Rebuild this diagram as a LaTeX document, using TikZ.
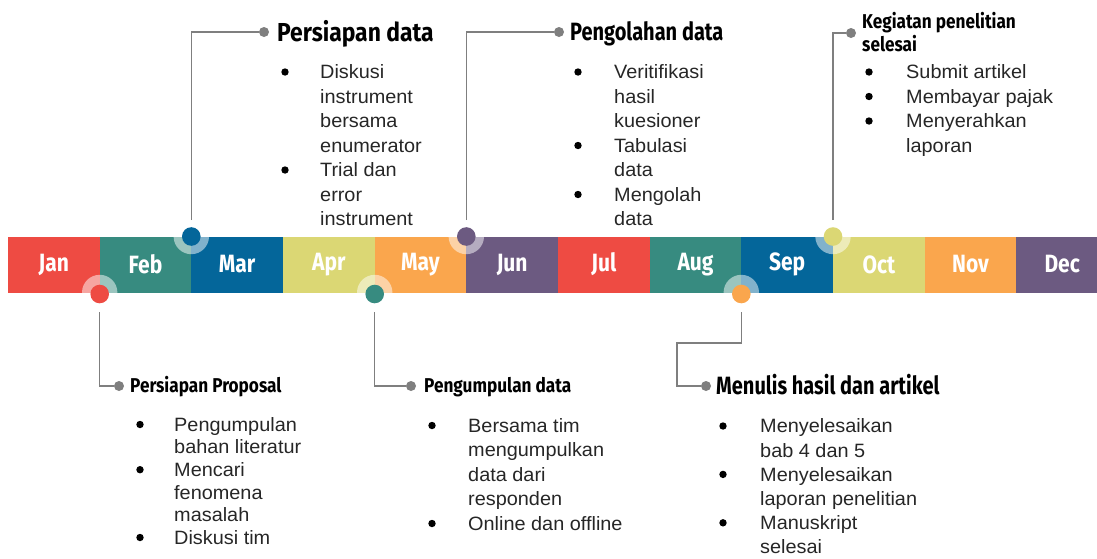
\documentclass[tikz,border=0pt]{standalone}
\usepackage{fontspec}
\setmainfont{Liberation Sans}[FakeStretch=1.03]
\newfontfamily\tfont[FakeStretch=0.8]{Fira Sans}
\newfontfamily\tfontw[FakeStretch=0.88]{Fira Sans}
\newfontfamily\tfonts[FakeStretch=0.86]{Fira Sans}
\newfontfamily\tfontm[FakeStretch=0.84]{Fira Sans}
\definecolor{cred}{HTML}{EE4B43}
\definecolor{cteal}{HTML}{378B80}
\definecolor{cblue}{HTML}{04669A}
\definecolor{cyel}{HTML}{DBD774}
\definecolor{corg}{HTML}{FAA64D}
\definecolor{cpur}{HTML}{6C5A81}
\definecolor{cgray}{HTML}{7F7F7F}
\tikzset{
  month/.style={minimum width=92pt, minimum height=56pt, inner sep=0pt, text=white,
    font=\tfontm\bfseries\fontsize{25}{25}\selectfont},
  halo/.style={circle, fill=white, fill opacity=0.5, minimum size=35.4pt, inner sep=0pt},
  dot/.style={circle, minimum size=18.6pt, inner sep=0pt},
  gdot/.style={circle, fill=cgray, minimum size=10pt, inner sep=0pt},
  conn/.style={draw=cgray, line width=1.4pt},
  bigtitle/.style={anchor=base west, inner sep=0pt, font=\tfont\bfseries\fontsize{25}{25}\selectfont},
  smalltitle/.style={anchor=base west, inner sep=0pt, font=\tfonts\bfseries\fontsize{20}{20}\selectfont},
  body/.style={anchor=base west, inner sep=0pt, text=black!85, font=\fontsize{19.3}{19.3}\selectfont},
  bul/.style={circle, fill=black, minimum size=7.4pt, inner sep=0pt}
}
\newcommand\blk[6]{%
  \foreach \b/\t [count=\i from 0] in {#6}{%
    \pgfmathsetmacro\yy{#4+\i*#5}%
    \node[body] (#1l\i) at (#3,\yy+6.8) {\t};%
    \ifnum\b=1 \node[bul] (#1b\i) at (#2,\yy) {};\fi
  }%
}
\begin{document}
\begin{tikzpicture}[x=1pt,y=-1pt]
\useasboundingbox (0,0) rectangle (1097,558);
\clip (0,0) rectangle (1097,558);
% bar
\foreach \m/\c [count=\i from 0] in {Jan/cred,Feb/cteal,Mar/cblue,Apr/cyel,May/corg,Jun/cpur,Jul/cred,Aug/cteal,Sep/cblue,Oct/cyel,Nov/corg,Dec/cpur}
  \node[month, fill=\c] (m\i) at ({8+91.67*\i+45.83},264.5) {\m};
% halos and dots
\node[halo] (h1) at (99.7,292.5) {};
\node[halo] (h2) at (191.3,236.5) {};
\node[halo] (h4) at (374.7,292.5) {};
\node[halo] (h5) at (466.3,236.5) {};
\node[halo] (h8) at (741.3,292.5) {};
\node[halo] (h9) at (833,236.5) {};
\node[dot, fill=cred] (d1) at (99.7,294) {};
\node[dot, fill=cblue] (d2) at (191.3,236.5) {};
\node[dot, fill=cteal] (d4) at (374.7,294) {};
\node[dot, fill=cpur] (d5) at (466.3,236.5) {};
\node[dot, fill=corg] (d8) at (741.3,294) {};
\node[dot, fill=cyel] (d9) at (833,236.5) {};
% connector ends
\coordinate (c1) at (99.7,312);
\coordinate (c2) at (191.3,220);
\coordinate (c4) at (374.7,312);
\coordinate (c5) at (466.3,220);
\coordinate (c8) at (741.3,312);
\coordinate (c8b) at (677,343);
\coordinate (c9) at (833,220);
% gray dots
\node[gdot] (g1) at (119,386) {};
\node[gdot] (g2) at (264,32) {};
\node[gdot] (g4) at (411,386) {};
\node[gdot] (g5) at (559,32) {};
\node[gdot] (g8) at (706,386) {};
\node[gdot] (g9) at (851,33) {};
\draw[conn] (c1) |- (g1);
\draw[conn] (c2) |- (g2);
\draw[conn] (c4) |- (g4);
\draw[conn] (c5) |- (g5);
\draw[conn] (c8) |- (c8b) |- (g8);
\draw[conn] (c9) |- (g9);
% titles
\node[bigtitle, font=\tfontw\bfseries\fontsize{26}{26}\selectfont] (t2) at (277,41) {Persiapan data};
\node[bigtitle] (t5) at (570,40.5) {Pengolahan data};
\node[bigtitle] (t8) at (716,394.5) {Menulis hasil dan artikel};
\node[smalltitle] (t1) at (130,392.5) {Persiapan Proposal};
\node[smalltitle] (t4) at (424,392.5) {Pengumpulan data};
\node[smalltitle] (t9a) at (862,28.5) {Kegiatan penelitian};
\node[smalltitle] (t9b) at (862,51.5) {selesai};
% bodies
\blk{p2}{285}{320}{72}{24.5}{1/Diskusi,0/instrument,0/bersama,0/enumerator,1/Trial dan,0/error,0/instrument}
\blk{p5}{578}{614}{72}{24.5}{1/Veritifikasi,0/hasil,0/kuesioner,1/Tabulasi,0/data,1/Mengolah,0/data}
\blk{p9}{869}{906}{72}{24.5}{1/Submit artikel,1/Membayar pajak,1/Menyerahkan,0/laporan}
\blk{p1}{140}{174}{424.5}{22.6}{1/Pengumpulan,0/bahan literatur,1/Mencari,0/fenomena,0/masalah,1/Diskusi tim}
\blk{p4}{432}{468}{425.5}{24.5}{1/Bersama tim,0/mengumpulkan,0/data dari,0/responden,1/Online dan offline}
\blk{p8}{723}{760}{426}{24.2}{1/Menyelesaikan,0/bab 4 dan 5,1/Menyelesaikan,0/laporan penelitian,1/Manuskript,0/selesai}
\end{tikzpicture}
\end{document}
